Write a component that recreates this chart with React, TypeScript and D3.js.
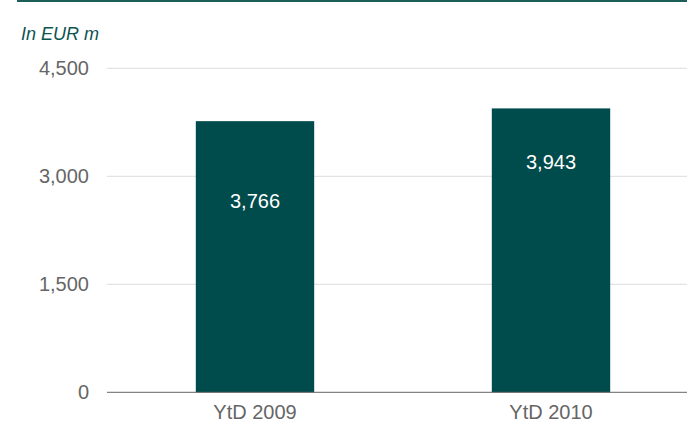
import React from "react";
import * as d3 from "d3";

const categories = ["YtD 2009", "YtD 2010"];
const values = [3766, 3943];
const tickValues = [0, 1500, 3000, 4500];
const labelOffsets = [80, 54];

const W = 687;
const H = 427;

export default function App() {
  const x = d3
    .scaleBand<string>()
    .domain(categories)
    .range([107, 699])
    .paddingInner(0.6)
    .paddingOuter(0.3);
  const y = d3.scaleLinear().domain([0, 4500]).range([392.3, 68.3]);
  const fmt = d3.format(",");
  const font = "'Liberation Sans', Arial, sans-serif";

  return (
    <svg
      width={W}
      height={H}
      style={{ position: "absolute", left: 0, top: 0, background: "#fff" }}
      fontFamily={font}
    >
      <rect x={17} y={0} width={W - 17} height={2} fill="#1d5e58" />
      <text x={21} y={40} fontSize={18} fontStyle="italic" fill="#0d5450">
        In EUR m
      </text>
      {tickValues.map((t) => (
        <g key={t}>
          {t !== 0 && (
            <line x1={107} x2={W} y1={y(t)} y2={y(t)} stroke="#dcdcdc" strokeWidth={1} />
          )}
          <text
            x={89}
            y={y(t)}
            dy="0.35em"
            textAnchor="end"
            fontSize={20}
            fill="#666"
          >
            {fmt(t)}
          </text>
        </g>
      ))}
      {categories.map((c, i) => (
        <g key={c}>
          <rect
            x={x(c)}
            y={y(values[i])}
            width={x.bandwidth()}
            height={y(0) - y(values[i])}
            fill="#004b4b"
          />
          <text
            x={(x(c) as number) + x.bandwidth() / 2}
            y={y(values[i]) + labelOffsets[i]}
            dy="0.35em"
            textAnchor="middle"
            fontSize={20}
            fill="#fff"
          >
            {fmt(values[i])}
          </text>
          <text
            x={(x(c) as number) + x.bandwidth() / 2}
            y={419}
            textAnchor="middle"
            fontSize={20}
            fill="#666"
          >
            {c}
          </text>
        </g>
      ))}
      <line x1={107} x2={W} y1={y(0)} y2={y(0)} stroke="#666" strokeWidth={1} />
    </svg>
  );
}
